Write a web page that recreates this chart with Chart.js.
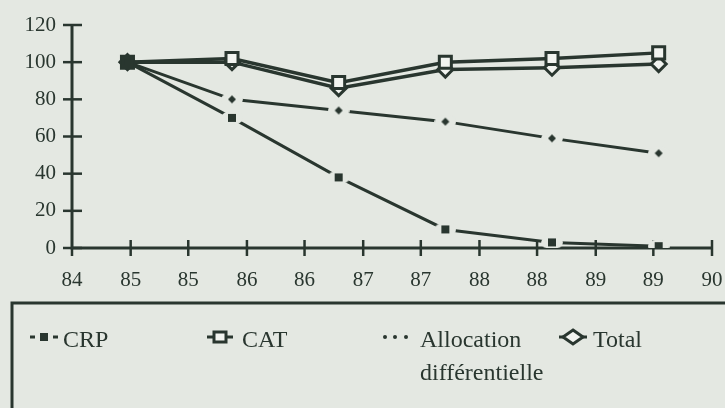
<!DOCTYPE html>
<html>
<head>
<meta charset="utf-8">
<script src="https://cdn.jsdelivr.net/npm/chart.js@4.4.1/dist/chart.umd.min.js"></script>
<style>
  html, body { margin:0; padding:0; background:#e4e8e2; }
  #wrap { width:725px; height:408px; position:relative; overflow:hidden; }
</style>
</head>
<body>
<div id="wrap"><canvas id="c" width="725" height="408"></canvas></div>
<script>
// values
const years = [84.52, 85.5, 86.5, 87.5, 88.5, 89.5];
const crp = [100, 70, 38, 10, 3, 1];
const cat = [100, 102, 89, 100, 102, 105];
const allocation = [100, 80, 74, 68, 59, 51];
const total = [100, 100, 86, 96, 97, 99];
const seriesNames = ['CRP', 'CAT', 'Allocation différentielle', 'Total'];
const xTickValues = [84, 84.55, 85.09, 85.64, 86.18, 86.73, 87.27, 87.82, 88.36, 88.91, 89.45, 90];
const xTickLabels = ['84', '85', '85', '86', '86', '87', '87', '88', '88', '89', '89', '90'];

const INK = '#29362f';
const PAPER = '#e4e8e2';
const FILL = '#f2f4f0';
const FONT = '"Liberation Serif", "Times New Roman", serif';

// small filled marks with a paper-coloured halo, like the gaps in the print
function haloMark(kind) {
  const c = document.createElement('canvas');
  c.width = 22; c.height = 14;
  const g = c.getContext('2d');
  g.fillStyle = PAPER;
  g.beginPath(); g.ellipse(11, 7, 11, 7, 0, 0, Math.PI * 2); g.fill();
  g.fillStyle = INK;
  if (kind === 'square') g.fillRect(7, 3, 8, 8);
  else { g.beginPath(); g.moveTo(11, 3); g.lineTo(15, 7); g.lineTo(11, 11); g.lineTo(7, 7); g.closePath(); g.fill(); }
  return c;
}
const crpMark = haloMark('square');
const allocMark = haloMark('diamond');

const pts = vals => vals.map((v, i) => ({x: years[i], y: v}));

const axesPlugin = {
  id: 'axes',
  beforeDatasetsDraw(chart) {
    const {ctx, chartArea: a, scales: {x, y}} = chart;
    ctx.save();
    ctx.strokeStyle = INK;
    ctx.lineWidth = 3;
    ctx.beginPath();
    ctx.moveTo(a.left, a.top); ctx.lineTo(a.left, a.bottom); ctx.lineTo(a.right, a.bottom);
    ctx.stroke();
    ctx.lineWidth = 2.5;
    y.ticks.forEach((t, i) => {
      const py = y.getPixelForTick(i);
      ctx.beginPath(); ctx.moveTo(a.left - 9, py); ctx.lineTo(a.left + 10, py); ctx.stroke();
    });
    x.ticks.forEach((t, i) => {
      const px = x.getPixelForTick(i);
      ctx.beginPath(); ctx.moveTo(px, i === 0 ? a.bottom : a.bottom - 8); ctx.lineTo(px, a.bottom + 8); ctx.stroke();
    });
    ctx.restore();
  }
};

const legendPlugin = {
  id: 'boxLegend',
  afterDraw(chart, args, opts) {
    const ctx = chart.ctx;
    ctx.save();
    ctx.strokeStyle = INK;
    ctx.lineWidth = 3;
    ctx.strokeRect(12, opts.top, 760, 200);
    ctx.font = '24px ' + FONT;
    ctx.fillStyle = INK;
    ctx.textBaseline = 'alphabetic';
    const my = opts.top + 34;
    chart.data.datasets.forEach((ds, i) => {
      const slot = opts.slots[i];
      const cx = slot.mark;
      ctx.lineWidth = 3;
      ctx.strokeStyle = INK;
      ctx.fillStyle = INK;
      if (ds.legendKind === 'crp') {
        ctx.fillRect(cx - 14, my - 1.5, 5, 3);
        ctx.fillRect(cx - 4, my - 4, 8, 8);
        ctx.fillRect(cx + 9, my - 1.5, 5, 3);
      } else if (ds.legendKind === 'cat') {
        ctx.beginPath(); ctx.moveTo(cx - 13, my); ctx.lineTo(cx + 13, my); ctx.stroke();
        ctx.fillStyle = FILL;
        ctx.fillRect(cx - 6, my - 5, 12, 10);
        ctx.strokeRect(cx - 6, my - 5, 12, 10);
      } else if (ds.legendKind === 'alloc') {
        [-12, -2, 9].forEach(dx => { ctx.beginPath(); ctx.arc(cx + dx, my, 2, 0, Math.PI * 2); ctx.fill(); });
      } else {
        ctx.beginPath(); ctx.moveTo(cx - 14, my); ctx.lineTo(cx + 14, my); ctx.stroke();
        ctx.fillStyle = FILL;
        ctx.beginPath();
        ctx.moveTo(cx, my - 7); ctx.lineTo(cx + 10, my); ctx.lineTo(cx, my + 7); ctx.lineTo(cx - 10, my); ctx.closePath();
        ctx.fill(); ctx.stroke();
      }
      ctx.fillStyle = INK;
      const words = ds.label.split(' ');
      words.forEach((w, k) => ctx.fillText(w, slot.text, opts.top + 44 + k * 33));
    });
    ctx.restore();
  }
};

new Chart(document.getElementById('c'), {
  type: 'line',
  data: {
    datasets: [
      { label: seriesNames[0], legendKind: 'crp', data: pts(crp),
        borderColor: INK, borderWidth: 3, backgroundColor: INK,
        pointStyle: c => c.dataIndex === 0 ? 'rect' : crpMark, pointRadius: 6 },
      { label: seriesNames[1], legendKind: 'cat', data: pts(cat),
        borderColor: INK, borderWidth: 3.5, backgroundColor: FILL,
        pointStyle: 'rect', pointRadius: 8.5, pointBorderWidth: 3 },
      { label: seriesNames[2], legendKind: 'alloc', data: pts(allocation),
        borderColor: INK, borderWidth: 3, backgroundColor: INK,
        pointStyle: c => c.dataIndex === 0 ? 'rectRot' : allocMark, pointRadius: 4 },
      { label: seriesNames[3], legendKind: 'total', data: pts(total),
        borderColor: INK, borderWidth: 3.5, backgroundColor: FILL,
        pointStyle: 'rectRot', pointRadius: 7.5, pointBorderWidth: 3 }
    ]
  },
  options: {
    responsive: false,
    animation: false,
    layout: { padding: { top: 25, right: 0, left: 0, bottom: 0 } },
    plugins: {
      legend: { display: false },
      tooltip: { enabled: false },
      boxLegend: { top: 303, slots: [{mark: 44, text: 63}, {mark: 220, text: 242}, {mark: 397, text: 420}, {mark: 573, text: 593}] }
    },
    scales: {
      x: {
        type: 'linear', min: 84, max: 90,
        afterBuildTicks: s => { s.ticks = xTickValues.map(v => ({value: v})); },
        afterFit: s => { s.height = 160; s.paddingRight = 13; s.paddingLeft = 0; },
        grid: { display: false, drawTicks: false },
        border: { display: false },
        ticks: { autoSkip: false, maxRotation: 0, padding: 20, color: INK,
                 font: { family: FONT, size: 21 },
                 callback: (v, i) => xTickLabels[i] }
      },
      y: {
        min: 0, max: 120,
        afterFit: s => { s.width = 72; s.paddingTop = 0; s.paddingBottom = 0; },
        grid: { display: false, drawTicks: false },
        border: { display: false },
        ticks: { stepSize: 20, padding: 16, color: INK, font: { family: FONT, size: 21 } }
      }
    }
  },
  plugins: [axesPlugin, legendPlugin]
});
</script>
</body>
</html>
